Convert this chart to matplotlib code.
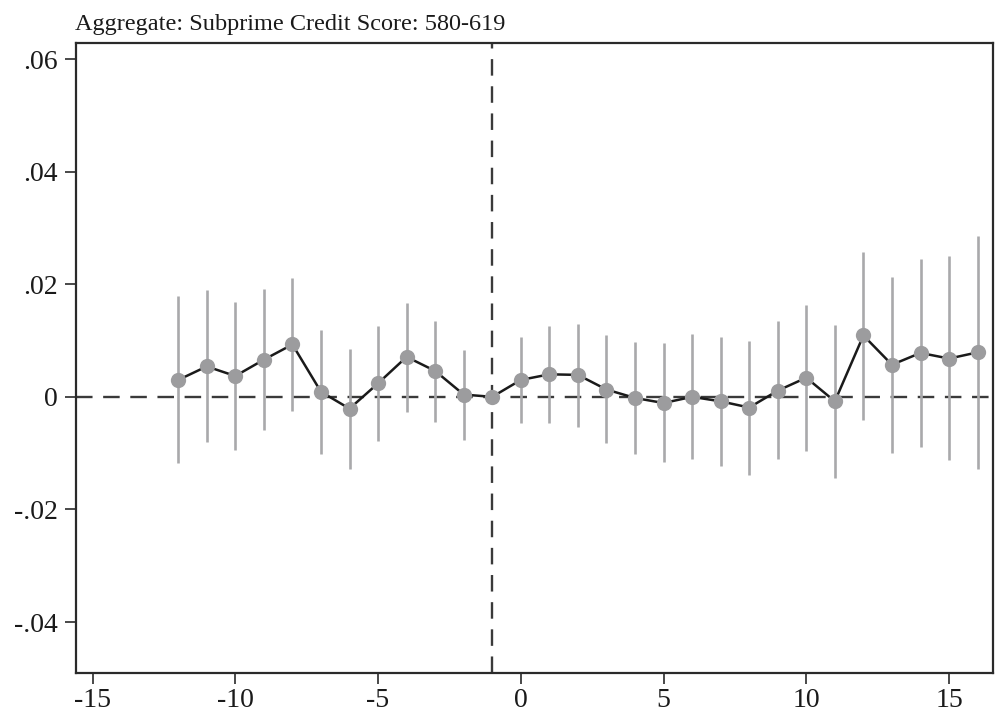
import matplotlib.pyplot as plt
import numpy as np

# event-time coefficients with 95% confidence bounds (t = -1 is the omitted period)
periods = list(range(-12, 17))
coef = [0.0030, 0.0054, 0.0037, 0.0066, 0.0093, 0.0009, -0.0021, 0.0024,
        0.0071, 0.0046, 0.0004, 0.0,
        0.0030, 0.0040, 0.0039, 0.0013, -0.0002, -0.0011, 0.0000, -0.0008,
        -0.0019, 0.0011, 0.0034, -0.0008, 0.0109, 0.0057, 0.0078, 0.0068, 0.0079]
ci_hi = [0.0179, 0.0189, 0.0169, 0.0192, 0.0211, 0.0118, 0.0085, 0.0125,
         0.0167, 0.0135, 0.0083, np.nan,
         0.0106, 0.0125, 0.0130, 0.0109, 0.0097, 0.0095, 0.0111, 0.0106,
         0.0100, 0.0134, 0.0164, 0.0128, 0.0257, 0.0213, 0.0245, 0.0250, 0.0286]
ci_lo = [-0.0118, -0.0081, -0.0094, -0.0059, -0.0025, -0.0101, -0.0128, -0.0079,
         -0.0027, -0.0044, -0.0076, np.nan,
         -0.0046, -0.0046, -0.0053, -0.0082, -0.0102, -0.0116, -0.0110, -0.0123,
         -0.0138, -0.0111, -0.0097, -0.0144, -0.0042, -0.0099, -0.0089, -0.0113, -0.0128]

xticks = [-15, -10, -5, 0, 5, 10, 15]
yticks = [-0.04, -0.02, 0, 0.02, 0.04, 0.06]
ylabels = ['-.04', '-.02', '0', '.02', '.04', '.06']
title = 'Aggregate: Subprime Credit Score: 580-619'

plt.rcParams['font.family'] = ['Liberation Serif', 'DejaVu Serif']

fig = plt.figure(figsize=(9.96, 7.19), dpi=100)
ax = fig.add_axes([0.0763, 0.0644, 0.9210, 0.8754])

# reference lines
ax.axhline(0, color='#3a3a3a', lw=1.7, ls=(0, (7, 4.5)), zorder=1)
ax.axvline(-1, color='#3a3a3a', lw=1.7, ls=(0, (7, 4.5)), zorder=1)

# confidence intervals
x = np.array(periods)
ax.vlines(x, ci_lo, ci_hi, color='#a9a9ab', lw=1.9, zorder=2)

# point estimates
ax.plot(x, coef, color='#1a1a1a', lw=1.8, zorder=3)
ax.plot(x, coef, 'o', color='#9c9c9e', markersize=11, markeredgewidth=0, zorder=4)

ax.set_xlim(-15.58, 16.55)
ax.set_ylim(-0.049, 0.0628)
ax.set_xticks(xticks)
ax.set_xticklabels([str(t) for t in xticks])
ax.set_yticks(yticks)
ax.set_yticklabels(ylabels)

ax.tick_params(direction='out', length=8, width=1.3, color='#3a3a3a',
               labelsize=20, labelcolor='#1a1a1a')
ax.tick_params(axis='x', pad=3)
ax.tick_params(axis='y', pad=5)
for s in ax.spines.values():
    s.set_linewidth(1.6)
    s.set_color('#2a2a2a')

fig.text(0.0755, 0.958, title, fontsize=17.5, color='#1a1a1a', ha='left', va='baseline')

fig.savefig('out.png', dpi=100)
